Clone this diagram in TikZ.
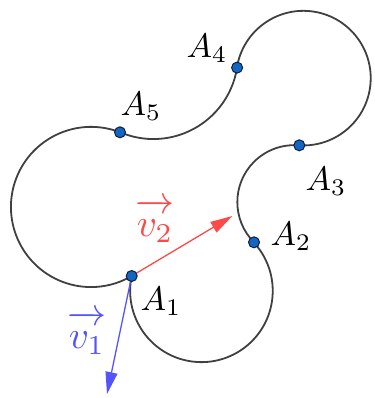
\documentclass[tikz,border=0pt]{standalone}
\usetikzlibrary{arrows.meta}
\definecolor{curvegray}{RGB}{64,64,64}
\definecolor{vred}{RGB}{255,72,72}
\definecolor{vblue}{RGB}{84,84,255}
\definecolor{dotblue}{RGB}{21,101,192}
\definecolor{dotedge}{RGB}{10,30,70}
\begin{document}
\begin{tikzpicture}[x=1pt,y=1pt,
  curve/.style={draw=curvegray,line width=1.8pt},
  vec/.style={line width=1.3pt,-{Triangle[length=22pt,width=12pt]}},
  ptdot/.style={circle,fill=dotblue,draw=dotedge,line width=1pt,inner sep=0pt,minimum size=11pt},
  lab/.style={inner sep=0pt,scale=3.4},
  vlab/.style={inner sep=0pt,scale=3.9}]
\useasboundingbox (0,0) rectangle (374,-398);
\coordinate (A1) at (131.7,-276);
\coordinate (A2) at (254,-242.3);
\coordinate (A3) at (299.3,-145.3);
\coordinate (A4) at (237.1,-67.6);
\coordinate (A5) at (120,-132.3);
\coordinate (T2) at (232.3,-216);
\coordinate (T1) at (107,-394);
% curve made of five arcs
\draw[curve] (A1) arc[start angle=168, end angle=402.7, radius=71.3];
\draw[curve] (A2) arc[start angle=225, end angle=84.9, radius=56.9];
\draw[curve] (A3) arc[start angle=266.5, end angle=531, radius=67.3];
\draw[curve] (A4) arc[start angle=351, end angle=246.6, radius=84.7];
\draw[curve] (A5) arc[start angle=68.8, end angle=300.5, radius=80.1];
% vectors
\draw[vec,vred] (A1) -- (T2);
\draw[vec,vblue] (A1) -- (T1);
% points
\foreach \p in {A1,A2,A3,A4,A5} \node[ptdot] (d\p) at (\p) {};
% labels
\node[lab] (lA1) at (161,-301) {$A_1$};
\node[lab] (lA2) at (291,-236) {$A_2$};
\node[lab] (lA3) at (326,-181) {$A_3$};
\node[lab] (lA4) at (207,-48) {$A_4$};
\node[lab] (lA5) at (141,-106) {$A_5$};
\node[vlab,text=vred] (lv2) at (155,-221) {$\overrightarrow{\vphantom{A}v_2}$};
\node[vlab,text=vblue] (lv1) at (87,-333) {$\overrightarrow{\vphantom{A}v_1}$};
\end{tikzpicture}
\end{document}
